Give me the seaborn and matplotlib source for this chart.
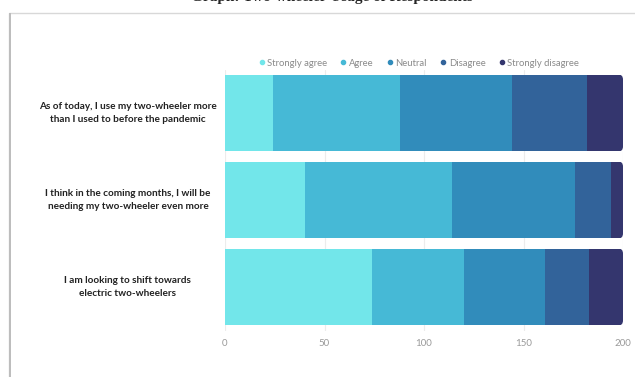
import matplotlib
matplotlib.use("Agg")
import matplotlib.pyplot as plt
from matplotlib.patches import Rectangle, FancyBboxPatch
import numpy as np
import pandas as pd
import seaborn as sns

statements = [
    "As of today, I use my two-wheeler more\nthan I used to before the pandemic",
    "I think in the coming months, I will be\nneeding my two-wheeler even more",
    "I am looking to shift towards\nelectric two-wheelers",
]
responses = ["Strongly agree", "Agree", "Neutral", "Disagree", "Strongly disagree"]
strongly_agree = [24, 40, 74]
agree = [64, 74, 46]
neutral = [56, 62, 41]
disagree = [38, 18, 22]
strongly_disagree = [18, 6, 17]
xticks = [0, 50, 100, 150, 200]

colors = ["#72e6ea", "#46b9d6", "#318cbb", "#32639a", "#34366e"]

sns.set_theme(style="white")
plt.rcParams["font.family"] = ["Lato", "DejaVu Sans"]

counts = np.array([strongly_agree, agree, neutral, disagree, strongly_disagree])
cumulative = counts.cumsum(axis=0)
bar_width = 0.885

fig = plt.figure(figsize=(6.35, 3.77), dpi=100)

# card frame behind the chart
fig.patches.append(Rectangle((0.0135, -0.01), 1.0, 0.975, transform=fig.transFigure,
                             facecolor="white", edgecolor="#d8d8d8", lw=1.0, zorder=-2))
fig.patches.append(Rectangle((0.0135, -0.01), 0.0035, 0.975, transform=fig.transFigure,
                             facecolor="#bdbdbd", edgecolor="none", zorder=-1))
fig.text(332 / 635, 1 - 1.0 / 377, "Graph: Two-wheeler Usage of Respondents", ha="center",
         va="baseline", fontsize=11, fontweight="bold", family="Liberation Serif")

ax = fig.add_axes([225 / 635, 1 - 330.5 / 377, 398 / 635, (330.5 - 69.5) / 377])
ax.set_facecolor("none")

# stacked bars: draw cumulative totals from the widest down
for i in range(len(responses) - 1, -1, -1):
    df = pd.DataFrame({"statement": statements, "value": cumulative[i]})
    sns.barplot(data=df, x="value", y="statement", color=colors[i], width=bar_width,
                saturation=1, ax=ax, orient="h", zorder=2, linewidth=0)

ax.set_xlim(0, 200)
ax.set_ylim(2.5, -0.5)

# round the right-hand end of every bar
bars = [p for p in ax.patches]
for k in range(len(statements)):
    total = cumulative[-1][k]
    clip = FancyBboxPatch((-20, k - bar_width / 2), total + 20, bar_width,
                          boxstyle="round,pad=0,rounding_size=2.4",
                          mutation_aspect=0.024, transform=ax.transData,
                          facecolor="none", edgecolor="none")
    for p in bars:
        cy = p.get_y() + p.get_height() / 2
        if abs(cy - k) < 0.1:
            p.set_clip_path(clip)

ax.set_xticks(xticks)
ax.set_xticklabels([str(t) for t in xticks], fontsize=7, color="#9a9a9a")
ax.tick_params(axis="x", length=0, pad=6)
ax.set_yticks([])
ax.set_xlabel("")
ax.set_ylabel("")
for s in ax.spines.values():
    s.set_visible(False)
ax.grid(axis="x", color="#ececec", lw=0.8, zorder=0)
ax.set_axisbelow(True)

for k, label in enumerate(statements):
    ax.text(-0.244, k, label, transform=ax.get_yaxis_transform(), ha="center", va="center",
            fontsize=7.2, fontweight="bold", color="#222222", linespacing=1.45)

handles = [plt.Line2D([], [], marker="o", ls="", markersize=3, color=c) for c in colors]
leg = fig.legend(handles, responses, loc="center", bbox_to_anchor=(418 / 635, 1 - 63 / 377),
                 ncol=5, frameon=False, fontsize=6.8, handletextpad=0.1, columnspacing=1.2,
                 handlelength=1.0)
for t in leg.get_texts():
    t.set_color("#8a8a8a")

fig.savefig("out.png", dpi=100)
